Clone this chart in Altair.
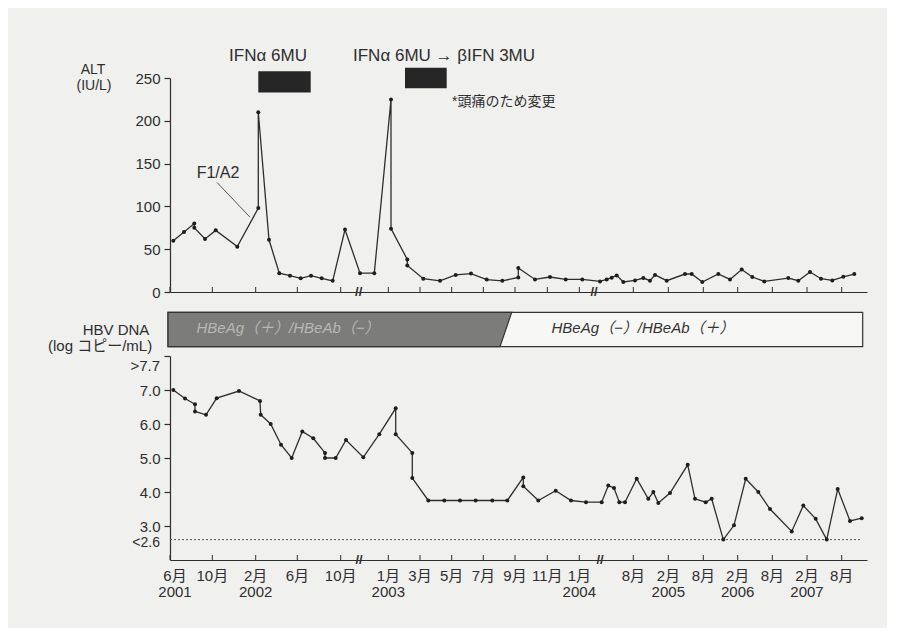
import altair as alt
import pandas as pd

# ---------------- data (positions are along the broken time axis, 0..697) ----------------
alt_pos = [3.3, 14, 24.3, 24.3, 35, 45.7, 67.3, 88.3, 88.3, 99, 109.3, 120, 130.7, 141, 151.7,
           162.7, 175, 190, 204.3, 221, 221, 237.3, 237.3, 253.3, 270, 285.7, 301, 316.7, 332.3,
           348.3, 348.3, 365, 380, 395.7, 412.3, 430, 436.7, 441.7, 446.7, 453.3, 465, 473.3,
           480, 485, 496.7, 515, 521.7, 532.3, 548.3, 560, 571.7, 582.3, 594.3, 618.3, 628.3,
           640, 651, 662.3, 673.3, 684.3]
alt_val = [60, 70, 80, 75, 62, 72, 53, 98, 210, 61, 22, 19, 16, 19, 16, 13, 73, 22, 22, 225,
           74, 38, 31, 15.5, 13, 20, 21.5, 14.5, 13, 17, 28, 14.7, 17.5, 14.7, 14.7, 12.4, 14.7,
           16.7, 19.4, 11.7, 13.5, 16.3, 13.2, 20, 13.2, 21, 21, 11.7, 21, 14.7, 26.3, 17.5,
           12.4, 16.3, 13.2, 23.3, 15.5, 13.5, 17.8, 21]

dna_pos = [3.3, 15, 25, 25, 36, 46.7, 69, 90, 90.7, 100.7, 111, 121.7, 132.3, 143.3, 155, 155,
           165.7, 176, 193.3, 209.3, 225.7, 225.7, 242.3, 242.3, 258.3, 274.3, 290, 305.7, 322.3,
           337.3, 353.3, 353.3, 368.3, 385.7, 401, 416, 431.7, 438.3, 444, 449.3, 455, 466.7,
           478.3, 483.3, 488.3, 500, 517.7, 525, 535.7, 541.7, 553.3, 564, 575.7, 588.3, 600,
           621.7, 633.3, 645.7, 656.7, 667.7, 680, 691.7]
dna_val = [7.0, 6.75, 6.58, 6.37, 6.27, 6.76, 6.97, 6.68, 6.27, 6.0, 5.39, 5.0, 5.78, 5.58,
           5.15, 5.0, 5.0, 5.53, 5.02, 5.7, 6.46, 5.7, 5.15, 4.41, 3.75, 3.75, 3.75, 3.75, 3.75,
           3.75, 4.43, 4.17, 3.75, 4.04, 3.75, 3.7, 3.7, 4.19, 4.12, 3.7, 3.7, 4.39, 3.8, 4.0,
           3.68, 3.97, 4.8, 3.8, 3.7, 3.8, 2.6, 3.02, 4.39, 4.0, 3.5, 2.84, 3.6, 3.21, 2.6,
           4.09, 3.15, 3.23]

tick_pos = [0, 42.3, 85.7, 127.3, 170.7, 218.3, 250, 281.7, 313.3, 345, 377.3, 409.3,
            463.3, 498.3, 533.3, 567.7, 602.3, 637, 671.7]
month_labels = ["6月", "10月", "2月", "6月", "10月", "1月", "3月", "5月", "7月", "9月", "11月",
                "1月", "8月", "2月", "8月", "2月", "8月", "2月", "8月"]
year_pos = [5, 85.7, 218.3, 409.3, 498.3, 567.7, 637]
year_labels = ["2001", "2002", "2003", "2004", "2005", "2006", "2007"]

top_breaks = [188.7, 424]
bottom_breaks = [189, 430]

W, H1, H2 = 697, 214, 204
FONT = "Liberation Sans, Arial, sans-serif"
CJK = "Liberation Sans, Noto Sans CJK JP, sans-serif"
INK = "#2e2e2e"

xs = alt.Scale(domain=[0, W], nice=False, zero=False)
ax_x = alt.Axis(labels=False, ticks=False, domain=True, title=None, grid=False)


def X(field="pos"):
    return alt.X(f"{field}:Q", scale=xs, axis=ax_x, title=None)


# ---------------- top panel: ALT ----------------
ys1 = alt.Scale(domain=[0, 250], nice=False, zero=False)
ax_y1 = alt.Axis(values=[0, 50, 100, 150, 200, 250], title=None, tickSize=6,
                 labelPadding=4, grid=False)

df_alt = pd.DataFrame({"pos": alt_pos, "val": alt_val, "idx": range(len(alt_pos))})
df_ticks = pd.DataFrame({"pos": tick_pos})

line1 = alt.Chart(df_alt).mark_line(color=INK, strokeWidth=1.3).encode(
    x=X(), y=alt.Y("val:Q", scale=ys1, axis=ax_y1, title=None), order="idx:Q")
pts1 = alt.Chart(df_alt).mark_circle(color="#1e1e1e", size=16, opacity=1).encode(
    x=X(), y=alt.Y("val:Q", scale=ys1, axis=ax_y1, title=None))
ticks1 = alt.Chart(df_ticks).mark_rule(color=INK, strokeWidth=1).encode(
    x=X(), y=alt.value(H1 - 5), y2=alt.value(H1))
brk1 = alt.Chart(pd.DataFrame({"pos": top_breaks, "t": ["//", "//"]})).mark_text(
    font=FONT, fontSize=13, fontWeight="bold", color=INK, baseline="middle").encode(
    x=X(), y=alt.value(H1), text="t:N")

df_ifn = pd.DataFrame({"pos": [88.3, 235], "pos2": [140.7, 276.7],
                       "val": [233, 238], "val2": [258, 262]})
ifn_rects = alt.Chart(df_ifn).mark_rect(color="#262626").encode(
    x=X(), x2="pos2:Q", y=alt.Y("val:Q", scale=ys1, axis=ax_y1, title=None), y2="val2:Q")

ifn1 = alt.Chart(pd.DataFrame({"pos": [98], "t": ["IFNα 6MU"]})).mark_text(
    font=FONT, fontSize=17, color=INK, baseline="top", align="center").encode(
    x=X(), y=alt.value(-30.5), text="t:N")
ifn2 = alt.Chart(pd.DataFrame({"pos": [183], "t": ["IFNα 6MU → βIFN 3MU"]})).mark_text(
    font=FONT, fontSize=17, color=INK, baseline="top", align="left").encode(
    x=X(), y=alt.value(-30.5), text="t:N")
note = alt.Chart(pd.DataFrame({"pos": [282], "t": ["*頭痛のため変更"]})).mark_text(
    font=CJK, fontSize=14, color=INK, baseline="middle", align="left").encode(
    x=X(), y=alt.value(23.7), text="t:N")

f1 = alt.Chart(pd.DataFrame({"pos": [48], "val": [139], "t": ["F1/A2"]})).mark_text(
    font=FONT, fontSize=16, color=INK, baseline="middle").encode(
    x=X(), y=alt.Y("val:Q", scale=ys1, axis=ax_y1, title=None), text="t:N")
f1_line = alt.Chart(pd.DataFrame({"pos": [47], "pos2": [80], "val": [128], "val2": [87.4]})
                    ).mark_rule(color="#555", strokeWidth=1).encode(
    x=X(), x2="pos2:Q", y=alt.Y("val:Q", scale=ys1, axis=ax_y1, title=None), y2="val2:Q")

alt_title1 = alt.Chart(pd.DataFrame({"t": ["ALT"]})).mark_text(
    font=FONT, fontSize=14, color=INK, baseline="middle", align="center").encode(
    x=alt.value(-77), y=alt.value(-8), text="t:N")
alt_title2 = alt.Chart(pd.DataFrame({"t": ["(IU/L)"]})).mark_text(
    font=FONT, fontSize=14, color=INK, baseline="middle", align="center").encode(
    x=alt.value(-76), y=alt.value(7.5), text="t:N")

top = alt.layer(ifn_rects, line1, pts1, ticks1, brk1, ifn1, ifn2, note, f1_line, f1,
                alt_title1, alt_title2).properties(width=W, height=H1)

# ---------------- bottom panel: HBV DNA ----------------
ys2 = alt.Scale(domain=[2, 8], nice=False, zero=False)
ax_y2 = alt.Axis(values=[3, 4, 5, 6, 7, 8], title=None, tickSize=6, labelPadding=4, grid=False,
                 labelExpr="datum.value == 8 ? '' : format(datum.value, '.1f')")


def Y2():
    return alt.Y("val:Q", scale=ys2, axis=ax_y2, title=None)


df_dna = pd.DataFrame({"pos": dna_pos, "val": dna_val, "idx": range(len(dna_pos))})

line2 = alt.Chart(df_dna).mark_line(color=INK, strokeWidth=1.3).encode(
    x=X(), y=Y2(), order="idx:Q")
pts2 = alt.Chart(df_dna).mark_circle(color="#1e1e1e", size=16, opacity=1).encode(x=X(), y=Y2())
ticks2 = alt.Chart(df_ticks).mark_rule(color=INK, strokeWidth=1).encode(
    x=X(), y=alt.value(H2 - 5), y2=alt.value(H2))
brk2 = alt.Chart(pd.DataFrame({"pos": bottom_breaks, "t": ["//", "//"]})).mark_text(
    font=FONT, fontSize=13, fontWeight="bold", color=INK, baseline="middle").encode(
    x=X(), y=alt.value(H2), text="t:N")

limit = alt.Chart(pd.DataFrame({"pos": [0], "pos2": [692], "val": [2.6]})).mark_rule(
    color="#555", strokeWidth=1, strokeDash=[2, 2]).encode(x=X(), x2="pos2:Q", y=Y2())

limit_hi = alt.Chart(pd.DataFrame({"val": [7.7], "t": [">7.7"]})).mark_text(
    font=FONT, fontSize=15, color=INK, baseline="middle", align="right").encode(
    x=alt.value(-10), y=Y2(), text="t:N")
limit_lo = alt.Chart(pd.DataFrame({"val": [2.6], "t": ["<2.6"]})).mark_text(
    font=FONT, fontSize=14, color=INK, baseline="middle", align="right", dy=3).encode(
    x=alt.value(-10), y=Y2(), text="t:N")

mlab = alt.Chart(pd.DataFrame({"pos": [5] + tick_pos[1:], "t": month_labels})).mark_text(
    font=CJK, fontSize=15, color=INK, baseline="top", align="center").encode(
    x=X(), y=alt.value(H2 + 9), text="t:N")
ylab = alt.Chart(pd.DataFrame({"pos": year_pos, "t": year_labels})).mark_text(
    font=FONT, fontSize=15, color=INK, baseline="top", align="center").encode(
    x=X(), y=alt.value(H2 + 25), text="t:N")

# header bar (HBeAg / HBeAb status)
bar_bg = alt.Chart(pd.DataFrame({"pos": [-2], "pos2": [692.7], "val": [9.285], "val2": [8.274]})
                   ).mark_rect(fill="#f7f7f5", stroke="#333", strokeWidth=1.2).encode(
    x=X(), x2="pos2:Q", y=Y2(), y2="val2:Q")
bar_dark = alt.Chart(pd.DataFrame({"pos": [341.7, 330], "pos2": [-2, -2],
                                   "val": [9.285, 8.274]})).mark_area(
    orient="horizontal", fill="#7c7c7a", stroke="#333", strokeWidth=1.2).encode(
    x=X(), x2="pos2:Q", y=Y2())
bar_txt = alt.Chart(pd.DataFrame({"pos": [118, 473],
                                  "t": ["HBeAg（＋）/HBeAb（−）", "HBeAg（−）/HBeAb（＋）"],
                                  "c": ["#b8b8b6", "#333333"]})).mark_text(
    font=CJK, fontSize=15, fontStyle="italic", baseline="middle", align="center").encode(
    x=X(), y=alt.value(-28), text="t:N", color=alt.Color("c:N", scale=None))

dna_title1 = alt.Chart(pd.DataFrame({"t": ["HBV DNA"]})).mark_text(
    font=FONT, fontSize=15, color=INK, baseline="middle", align="center").encode(
    x=alt.value(-54), y=alt.value(-26), text="t:N")
dna_title2 = alt.Chart(pd.DataFrame({"t": ["(log コピー/mL)"]})).mark_text(
    font=CJK, fontSize=15, color=INK, baseline="middle", align="left").encode(
    x=alt.value(-122), y=alt.value(-10.5), text="t:N")

bottom = alt.layer(bar_bg, bar_dark, bar_txt, limit, line2, pts2, ticks2, brk2, limit_hi,
                   limit_lo, mlab, ylab, dna_title1, dna_title2).properties(width=W, height=H2)

chart = alt.vconcat(top, bottom, spacing=64, bounds="flush").properties(
    padding={"left": 40, "top": 38, "right": 20, "bottom": 28},
    background="#f0f0ee",
).configure_view(stroke=None).configure_axis(
    labelFont=FONT, labelFontSize=15, labelColor=INK, domainColor=INK, tickColor=INK,
    domainWidth=1.2, tickWidth=1.2,
)

chart.save("out.html", embed_options={"renderer": "svg", "actions": False})
